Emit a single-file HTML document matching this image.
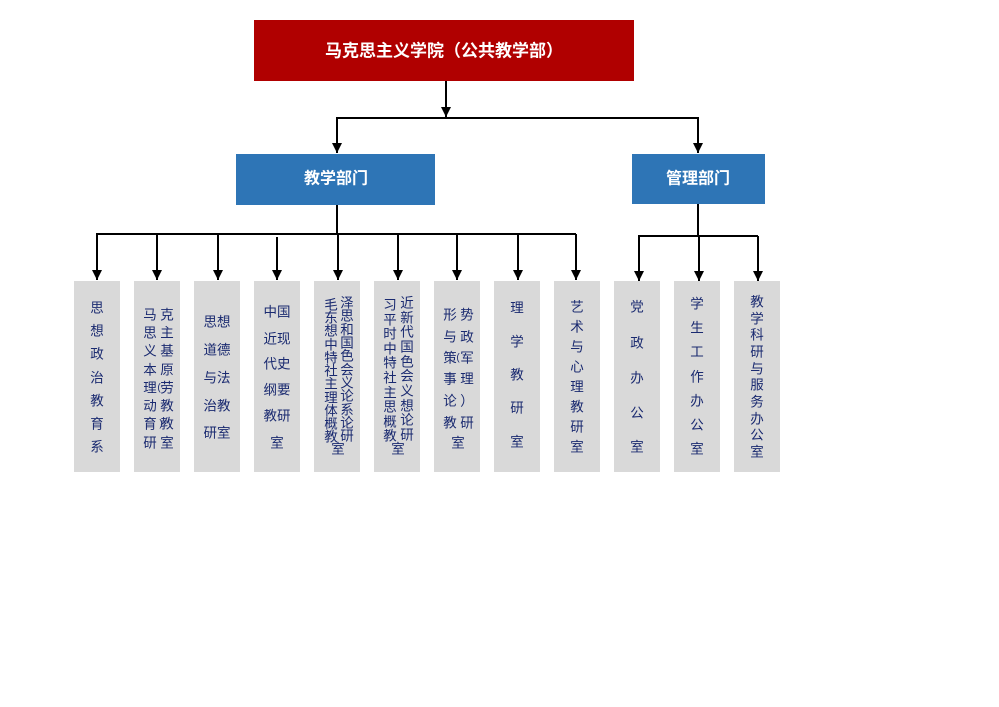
<!DOCTYPE html>
<html><head><meta charset="utf-8"><style>
html,body{margin:0;padding:0;background:#fff;}
svg{display:block;}
.t{font-family:"Liberation Sans","Noto Sans CJK SC",sans-serif;fill:#1a2a70;font-size:13.5px;text-anchor:middle;dominant-baseline:central;}
.h{font-family:"Liberation Sans","Noto Sans CJK SC",sans-serif;fill:#fff;font-weight:bold;text-anchor:middle;dominant-baseline:central;}
</style></head><body>
<svg width="999" height="707" viewBox="0 0 999 707" xmlns="http://www.w3.org/2000/svg">
<defs><marker id="a" markerWidth="12" markerHeight="12" refX="10" refY="5" orient="auto" markerUnits="userSpaceOnUse"><path d="M0,0 L10,5 L0,10 Z" fill="#000"/></marker></defs>
<rect x="254" y="20" width="380" height="61" fill="#b00000"/>
<text class="h" x="444" y="51" font-size="17">马克思主义学院（公共教学部）</text>
<rect x="236" y="154" width="199" height="51" fill="#2e75b6"/>
<text class="h" x="336" y="179" font-size="16">教学部门</text>
<rect x="632" y="154" width="133" height="50" fill="#2e75b6"/>
<text class="h" x="698" y="179" font-size="16">管理部门</text>
<g stroke="#000" stroke-width="2" fill="none">
<line x1="446" y1="81" x2="446" y2="117" marker-end="url(#a)"/>
<polyline points="337,140 337,118 698,118 698,140" />
<line x1="337" y1="130" x2="337" y2="153" marker-end="url(#a)"/>
<line x1="698" y1="130" x2="698" y2="153" marker-end="url(#a)"/>
<line x1="337" y1="205" x2="337" y2="234"/>
<line x1="96" y1="234" x2="576" y2="234"/>
<line x1="698" y1="204" x2="698" y2="236"/>
<line x1="638" y1="236" x2="758" y2="236"/>
<line x1="97" y1="234" x2="97" y2="280" marker-end="url(#a)"/>
<line x1="157" y1="234" x2="157" y2="280" marker-end="url(#a)"/>
<line x1="218" y1="234" x2="218" y2="280" marker-end="url(#a)"/>
<line x1="277" y1="237" x2="277" y2="280" marker-end="url(#a)"/>
<line x1="338" y1="234" x2="338" y2="280" marker-end="url(#a)"/>
<line x1="398" y1="234" x2="398" y2="280" marker-end="url(#a)"/>
<line x1="457" y1="234" x2="457" y2="280" marker-end="url(#a)"/>
<line x1="518" y1="234" x2="518" y2="280" marker-end="url(#a)"/>
<line x1="576" y1="234" x2="576" y2="280" marker-end="url(#a)"/>
<line x1="639" y1="236" x2="639" y2="281" marker-end="url(#a)"/>
<line x1="699" y1="236" x2="699" y2="281" marker-end="url(#a)"/>
<line x1="758" y1="236" x2="758" y2="281" marker-end="url(#a)"/>
</g>
<g fill="#d9d9d9">
<rect x="74" y="281" width="46" height="191"/><rect x="134" y="281" width="46" height="191"/>
<rect x="194" y="281" width="46" height="191"/><rect x="254" y="281" width="46" height="191"/>
<rect x="314" y="281" width="46" height="191"/><rect x="374" y="281" width="46" height="191"/>
<rect x="434" y="281" width="46" height="191"/><rect x="494" y="281" width="46" height="191"/>
<rect x="554" y="281" width="46" height="191"/><rect x="614" y="281" width="46" height="191"/>
<rect x="674" y="281" width="46" height="191"/><rect x="734" y="281" width="46" height="191"/>
</g>
<g class="t">
<text class="t" x="97" y="308">思</text><text class="t" x="97" y="331">想</text><text class="t" x="97" y="354">政</text><text class="t" x="97" y="378">治</text><text class="t" x="97" y="401">教</text><text class="t" x="97" y="424">育</text><text class="t" x="97" y="447">系</text>
<text class="t" x="150" y="315">马</text><text class="t" x="150" y="333">思</text><text class="t" x="150" y="351">义</text><text class="t" x="150" y="370">本</text><text class="t" x="150" y="388">理</text><text class="t" x="150" y="406">动</text><text class="t" x="150" y="424">育</text><text class="t" x="150" y="443">研</text>
<text class="t" x="167" y="315">克</text><text class="t" x="167" y="333">主</text><text class="t" x="167" y="351">基</text><text class="t" x="167" y="370">原</text><text class="t" x="167" y="388">劳</text><text class="t" x="167" y="406">教</text><text class="t" x="167" y="424">教</text><text class="t" x="167" y="443">室</text>
<text class="t" x="159" y="388" style="font-size:10px">(</text><text class="t" x="161" y="424" style="font-size:10px">)</text>
<text class="t" x="217" y="322">思想</text><text class="t" x="217" y="350">道德</text><text class="t" x="217" y="378">与法</text><text class="t" x="217" y="406">治教</text><text class="t" x="217" y="433">研室</text>
<text class="t" x="277" y="312">中国</text><text class="t" x="277" y="339">近现</text><text class="t" x="277" y="364">代史</text><text class="t" x="277" y="390">纲要</text><text class="t" x="277" y="416">教研</text><text class="t" x="277" y="443">室</text>
<text class="t" x="331" y="305">毛</text><text class="t" x="331" y="318">东</text><text class="t" x="331" y="331">想</text><text class="t" x="331" y="345">中</text><text class="t" x="331" y="358">特</text><text class="t" x="331" y="371">社</text><text class="t" x="331" y="384">主</text><text class="t" x="331" y="398">理</text><text class="t" x="331" y="411">体</text><text class="t" x="331" y="424">概</text><text class="t" x="331" y="437">教</text>
<text class="t" x="347" y="303">泽</text><text class="t" x="347" y="316">思</text><text class="t" x="347" y="330">和</text><text class="t" x="347" y="343">国</text><text class="t" x="347" y="356">色</text><text class="t" x="347" y="370">会</text><text class="t" x="347" y="383">义</text><text class="t" x="347" y="396">论</text><text class="t" x="347" y="410">系</text><text class="t" x="347" y="423">论</text><text class="t" x="347" y="436">研</text>
<text class="t" x="338" y="449">室</text>
<text class="t" x="390" y="305">习</text><text class="t" x="390" y="320">平</text><text class="t" x="390" y="334">时</text><text class="t" x="390" y="349">中</text><text class="t" x="390" y="363">特</text><text class="t" x="390" y="378">社</text><text class="t" x="390" y="393">主</text><text class="t" x="390" y="407">思</text><text class="t" x="390" y="422">概</text><text class="t" x="390" y="436">教</text>
<text class="t" x="407" y="303">近</text><text class="t" x="407" y="318">新</text><text class="t" x="407" y="332">代</text><text class="t" x="407" y="347">国</text><text class="t" x="407" y="362">色</text><text class="t" x="407" y="376">会</text><text class="t" x="407" y="391">义</text><text class="t" x="407" y="406">想</text><text class="t" x="407" y="420">论</text><text class="t" x="407" y="435">研</text>
<text class="t" x="398" y="449">室</text>
<text class="t" x="450" y="315">形</text><text class="t" x="450" y="337">与</text><text class="t" x="450" y="358">策</text><text class="t" x="450" y="379">事</text><text class="t" x="450" y="401">论</text><text class="t" x="450" y="423">教</text>
<text class="t" x="467" y="315">势</text><text class="t" x="467" y="337">政</text><text class="t" x="467" y="358">军</text><text class="t" x="467" y="379">理</text><text class="t" x="467" y="401">）</text><text class="t" x="467" y="423">研</text>
<text class="t" x="458" y="358" style="font-size:10px">(</text>
<text class="t" x="458" y="443">室</text>
<text class="t" x="517" y="308">理</text><text class="t" x="517" y="342">学</text><text class="t" x="517" y="375">教</text><text class="t" x="517" y="408">研</text><text class="t" x="517" y="442">室</text>
<text class="t" x="577" y="307">艺</text><text class="t" x="577" y="327">术</text><text class="t" x="577" y="347">与</text><text class="t" x="577" y="367">心</text><text class="t" x="577" y="387">理</text><text class="t" x="577" y="407">教</text><text class="t" x="577" y="427">研</text><text class="t" x="577" y="447">室</text>
<text class="t" x="637" y="307">党</text><text class="t" x="637" y="343">政</text><text class="t" x="637" y="378">办</text><text class="t" x="637" y="413">公</text><text class="t" x="637" y="447">室</text>
<text class="t" x="697" y="304">学</text><text class="t" x="697" y="328">生</text><text class="t" x="697" y="352">工</text><text class="t" x="697" y="377">作</text><text class="t" x="697" y="401">办</text><text class="t" x="697" y="425">公</text><text class="t" x="697" y="449">室</text>
<text class="t" x="757" y="302">教</text><text class="t" x="757" y="319">学</text><text class="t" x="757" y="335">科</text><text class="t" x="757" y="352">研</text><text class="t" x="757" y="369">与</text><text class="t" x="757" y="385">服</text><text class="t" x="757" y="402">务</text><text class="t" x="757" y="419">办</text><text class="t" x="757" y="435">公</text><text class="t" x="757" y="452">室</text>
</g>
</svg>
</body></html>
